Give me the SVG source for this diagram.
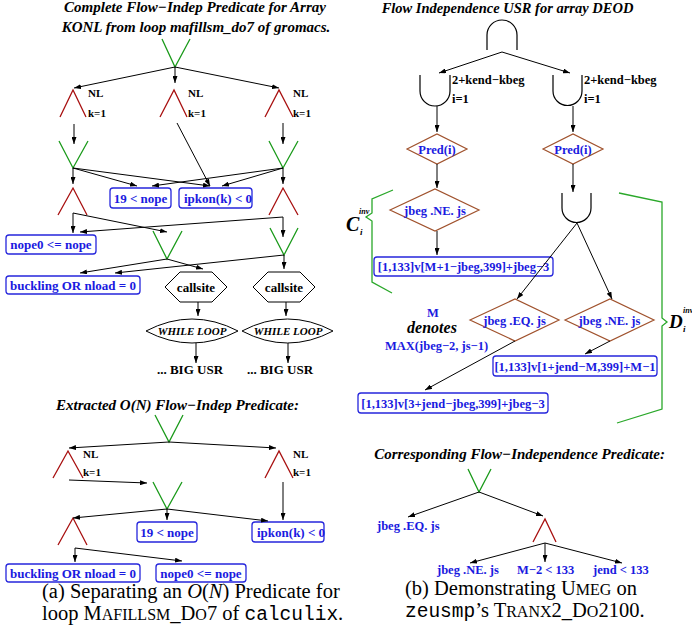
<svg xmlns="http://www.w3.org/2000/svg" width="692" height="627" viewBox="0 0 692 627">
<defs>
<marker id="ah" viewBox="0 0 7 5" refX="7" refY="2.5" markerWidth="7" markerHeight="5" orient="auto" markerUnits="userSpaceOnUse"><path d="M0,0 L7,2.5 L0,5 z" fill="#000"/></marker>
<style>
.title{font-family:"Liberation Serif",serif;font-weight:bold;font-style:italic;font-size:15px;fill:#000}
.lbl{font-family:"Liberation Serif",serif;font-weight:bold;font-size:11px;fill:#000}
.lbl2{font-family:"Liberation Serif",serif;font-weight:bold;font-size:12.5px;fill:#000}
.blue{font-family:"Liberation Serif",serif;font-weight:bold;font-size:13px;fill:#1a1ae0}
.bs{font-size:12.5px}
.blk{font-family:"Liberation Serif",serif;font-weight:bold;font-size:13px;fill:#000}
.wl{font-style:italic;font-size:11px}
.cap{font-family:"Liberation Serif",serif;font-size:20.5px;fill:#000}
.sc{font-size:16px}
.tt{font-family:"Liberation Mono",monospace;font-size:19.5px}
.box{fill:#fff;stroke:#2626dc;stroke-width:1.3}
.and{fill:none;stroke:#1a9a1a;stroke-width:1.3}
.or{fill:none;stroke:#a81010;stroke-width:1.3}
.dia{fill:#fff;stroke:#a0522d;stroke-width:1.2}
.shape{fill:#fff;stroke:#000;stroke-width:1}
.cup{fill:none;stroke:#000;stroke-width:1.2}
.brk{fill:none;stroke:#2aa82a;stroke-width:1.3}
.c{fill:none;stroke:#000;stroke-width:1;marker-end:url(#ah)}
</style>
</defs>
<rect width="692" height="627" fill="#fff"/>

<!-- ===== Left panel titles ===== -->
<text class="title" x="195" y="12" text-anchor="middle">Complete Flow−Indep Predicate for Array</text>
<text class="title" x="196" y="32" text-anchor="middle">KONL from loop mafillsm_do7 of gromacs.</text>

<g id="L-and1"><polyline class="and" points="162,39 175,67 190,39"/></g>
<g id="L-or1a"><polyline class="or" points="60,117 73,90 86,117"/><text class="lbl" x="88" y="97">NL</text><text class="lbl" x="88" y="117">k=1</text></g>
<g id="L-or1b"><polyline class="or" points="160,117 174,90 187,117"/><text class="lbl" x="188" y="97">NL</text><text class="lbl" x="188" y="117">k=1</text></g>
<g id="L-or1c"><polyline class="or" points="265,117 279,90 293,117"/><text class="lbl" x="293" y="97">NL</text><text class="lbl" x="293" y="117">k=1</text></g>
<g id="L-and2a"><polyline class="and" points="59,141 73,168 88,141"/></g>
<g id="L-and2b"><polyline class="and" points="269,141 283,168 298,141"/></g>
<g id="L-b19"><rect class="box" x="110" y="188" width="61" height="20" rx="3"/><text class="blue" x="140.5" y="202.5" text-anchor="middle">19 &lt; nope</text></g>
<g id="L-bipk"><rect class="box" x="179" y="188" width="73" height="20" rx="3"/><text class="blue" x="184" y="202.5">ipkon(k) &lt; 0</text></g>
<g id="L-or3a"><polyline class="or" points="58,215 73,188 87,215"/></g>
<g id="L-or3b"><polyline class="or" points="269,215 283,188 298,215"/></g>
<g id="L-and4a"><polyline class="and" points="153,231 167,259 182,231"/></g>
<g id="L-and4b"><polyline class="and" points="270,228 284,255 298,228"/></g>
<g id="L-bnope0"><rect class="box" x="6" y="235" width="90" height="19" rx="3"/><text class="blue" x="51" y="249" text-anchor="middle">nope0 &lt;= nope</text></g>
<g id="L-bbuck"><rect class="box" x="6" y="276" width="134" height="18" rx="3"/><text class="blue" x="73" y="289.5" text-anchor="middle">buckling OR nload = 0</text></g>
<g id="L-call1"><polygon class="shape" points="165,287 180,272 212,272 227,287 212,302 180,302"/><text class="blk" x="196" y="291.5" text-anchor="middle">callsite</text></g>
<g id="L-call2"><polygon class="shape" points="253,287 268,272 300,272 315,287 300,302 268,302"/><text class="blk" x="284" y="291.5" text-anchor="middle">callsite</text></g>
<g id="L-while1"><path class="shape" d="M146,331 Q192,307 238,331 Q192,355 146,331 Z"/><text class="blk wl" x="192" y="335" text-anchor="middle">WHILE LOOP</text></g>
<g id="L-while2"><path class="shape" d="M242,331 Q287.5,307 333,331 Q287.5,355 242,331 Z"/><text class="blk wl" x="288" y="335" text-anchor="middle">WHILE LOOP</text></g>
<g id="L-usr1"><text class="blk" x="190" y="374" text-anchor="middle">... BIG USR</text></g>
<g id="L-usr2"><text class="blk" x="280" y="374" text-anchor="middle">... BIG USR</text></g>

<!-- ===== Lower-left ===== -->
<text class="title" x="177.5" y="410" text-anchor="middle">Extracted O(N) Flow−Indep Predicate:</text>
<g id="E-and1"><polyline class="and" points="155,415 169,442 183,415"/></g>
<g id="E-or1a"><polyline class="or" points="53,478 68,451 83,478"/><text class="lbl" x="83" y="458">NL</text><text class="lbl" x="83" y="476">k=1</text></g>
<g id="E-or1b"><polyline class="or" points="265,478 279,451 293,478"/><text class="lbl" x="293" y="458">NL</text><text class="lbl" x="293" y="476">k=1</text></g>
<g id="E-and2"><polyline class="and" points="153,482 167,509 182,482"/></g>
<g id="E-or2"><polyline class="or" points="58,545 73,518 87,545"/></g>
<g id="E-b19"><rect class="box" x="137" y="522" width="60" height="20" rx="3"/><text class="blue" x="167" y="536.5" text-anchor="middle">19 &lt; nope</text></g>
<g id="E-bipk"><rect class="box" x="252" y="522" width="72" height="20" rx="3"/><text class="blue" x="257" y="536.5">ipkon(k) &lt; 0</text></g>
<g id="E-bbuck"><rect class="box" x="6" y="564" width="134" height="18" rx="3"/><text class="blue" x="73" y="577.5" text-anchor="middle">buckling OR nload = 0</text></g>
<g id="E-bnope0"><rect class="box" x="156" y="564" width="90" height="18" rx="3"/><text class="blue" x="201" y="577.5" text-anchor="middle">nope0 &lt;= nope</text></g>

<text class="cap" x="42" y="598">(a)  Separating an <tspan font-style="italic">O</tspan>(<tspan font-style="italic">N</tspan>) Predicate for</text>
<text class="cap" x="42" y="620">loop M<tspan class="sc">AFILLSM</tspan>_D<tspan class="sc">O</tspan>7 of <tspan class="tt">calculix</tspan>.</text>

<!-- ===== Right panel ===== -->
<text class="title" x="507.5" y="13" text-anchor="middle" style="font-size:14.5px">Flow Independence USR for array DEOD</text>
<g id="R-cap"><path class="cup" d="M487,50 V35 A15,15 0 0 1 517,35 V50"/></g>
<g id="R-cupL"><path class="cup" d="M420,75 V91 A15,15 0 0 0 450,91 V75"/><text class="lbl2" x="452" y="84">2+kend−kbeg</text><text class="lbl2" x="452" y="103">i=1</text></g>
<g id="R-cupR"><path class="cup" d="M553,75 V91 A14.5,14.5 0 0 0 582,91 V75"/><text class="lbl2" x="584" y="84">2+kend−kbeg</text><text class="lbl2" x="584" y="103">i=1</text></g>
<g id="R-predL"><polygon class="dia" points="407,149 437,134 467,149 437,164"/><text class="blue bs" x="437" y="153.5" text-anchor="middle">Pred(i)</text></g>
<g id="R-predR"><polygon class="dia" points="543,149 573,134 603,149 573,164"/><text class="blue bs" x="573" y="153.5" text-anchor="middle">Pred(i)</text></g>
<g id="R-neL"><polygon class="dia" points="390,210 435,189 479,210 435,231"/><text class="blue bs" x="435" y="214.5" text-anchor="middle">jbeg .NE. js</text></g>
<g id="R-box1"><rect class="box" x="374" y="257" width="179" height="19" rx="3"/><text class="blue bs" x="463.5" y="271" text-anchor="middle">[1,133]v[M+1−jbeg,399]+jbeg−3</text></g>
<g id="R-cup2"><path class="cup" d="M562,193 V208 A14.5,14.5 0 0 0 591,208 V193"/></g>
<g id="R-eq"><polygon class="dia" points="470,320 515,299 559,320 515,341"/><text class="blue bs" x="514.5" y="324.5" text-anchor="middle">jbeg .EQ. js</text></g>
<g id="R-ne"><polygon class="dia" points="565,320 610,299 654,320 610,341"/><text class="blue bs" x="609.5" y="324.5" text-anchor="middle">jbeg .NE. js</text></g>
<g id="R-box2"><rect class="box" x="493" y="356" width="164" height="20" rx="3"/><text class="blue bs" x="575" y="370.5" text-anchor="middle">[1,133]v[1+jend−M,399]+M−1</text></g>
<g id="R-box3"><rect class="box" x="358" y="393" width="190" height="20" rx="3"/><text class="blue bs" x="453" y="407.5" text-anchor="middle">[1,133]v[3+jend−jbeg,399]+jbeg−3</text></g>
<g id="R-note">
<text class="blue bs" x="433" y="317" text-anchor="middle">M</text>
<text class="blk" x="432" y="333" text-anchor="middle" style="font-style:italic;font-size:16px">denotes</text>
<text class="blue bs" x="385" y="350">MAX(jbeg−2, js−1)</text>
</g>
<g id="R-brkC"><polyline class="brk" points="393,190 372,199 372,213 366,217 372,221 372,282 392,293"/>
<text class="blk" x="346" y="231" style="font-style:italic;font-size:20px">C</text>
<text class="blk" x="359" y="214" style="font-style:italic;font-size:8px">inv</text>
<text class="blk" x="360" y="235" style="font-style:italic;font-size:9px">i</text></g>
<g id="R-brkD"><polyline class="brk" points="619,193 662,202 662,318 667,322 662,326 662,409 617,423"/>
<text class="blk" x="669" y="328" style="font-style:italic;font-size:19px">D</text>
<text class="blk" x="683" y="313" style="font-style:italic;font-size:8px">inv</text>
<text class="blk" x="683" y="332" style="font-style:italic;font-size:9px">i</text></g>

<!-- ===== Lower-right ===== -->
<text class="title" x="519.5" y="459" text-anchor="middle">Corresponding Flow−Independence Predicate:</text>
<g id="P-and"><polyline class="and" points="468,469 479,492 491,469"/></g>
<g id="P-eq"><text class="blue bs" x="377" y="530">jbeg .EQ. js</text></g>
<g id="P-or"><polyline class="or" points="533,542 545,519 556,542"/></g>
<g id="P-ne"><text class="blue bs" x="437" y="574">jbeg .NE. js</text></g>
<g id="P-m2"><text class="blue bs" x="517" y="574">M−2 &lt; 133</text></g>
<g id="P-jend"><text class="blue bs" x="593" y="574">jend &lt; 133</text></g>

<text class="cap" x="405" y="595">(b)  Demonstrating U<tspan class="sc">MEG</tspan> on</text>
<text class="cap" x="405" y="617"><tspan class="tt">zeusmp</tspan>’s T<tspan class="sc">RANX</tspan>2_D<tspan class="sc">O</tspan>2100.</text>

<!-- ===== Connectors ===== -->
<g id="connectors">
<line class="c" x1="175" y1="67" x2="74" y2="88"/>
<line class="c" x1="175" y1="67" x2="175" y2="83"/>
<line class="c" x1="175" y1="67" x2="279" y2="88"/>
<line class="c" x1="74" y1="124" x2="74" y2="144"/>
<line class="c" x1="177" y1="123" x2="210" y2="186"/>
<line class="c" x1="283" y1="123" x2="283" y2="144"/>
<line class="c" x1="73" y1="168" x2="73" y2="184"/>
<line class="c" x1="73" y1="168" x2="137" y2="186"/>
<line class="c" x1="73" y1="168" x2="210" y2="186"/>
<line class="c" x1="283" y1="168" x2="283" y2="184"/>
<line class="c" x1="283" y1="168" x2="152" y2="186"/>
<line class="c" x1="283" y1="168" x2="222" y2="186"/>
<line class="c" x1="73" y1="213" x2="73" y2="233"/>
<line class="c" x1="73" y1="213" x2="167" y2="232"/>
<line class="c" x1="283" y1="217" x2="80" y2="232"/>
<line class="c" x1="283" y1="217" x2="283" y2="237"/>
<line class="c" x1="167" y1="259" x2="80" y2="273"/>
<line class="c" x1="167" y1="259" x2="203" y2="269"/>
<line class="c" x1="284" y1="255" x2="115" y2="273"/>
<line class="c" x1="284" y1="255" x2="284" y2="269"/>
<line class="c" x1="198" y1="302" x2="198" y2="316"/>
<line class="c" x1="286" y1="302" x2="286" y2="316"/>
<line class="c" x1="196" y1="343" x2="196" y2="363"/>
<line class="c" x1="288" y1="343" x2="288" y2="363"/>

<line class="c" x1="169" y1="442" x2="69" y2="448"/>
<line class="c" x1="169" y1="442" x2="276" y2="448"/>
<line class="c" x1="69" y1="480" x2="147" y2="483"/>
<line class="c" x1="167" y1="509" x2="73" y2="518"/>
<line class="c" x1="167" y1="509" x2="167" y2="520"/>
<line class="c" x1="167" y1="509" x2="268" y2="521"/>
<line class="c" x1="283" y1="482" x2="283" y2="520"/>
<line class="c" x1="75" y1="548" x2="75" y2="562"/>
<line class="c" x1="75" y1="548" x2="182" y2="561"/>

<line class="c" x1="502" y1="52" x2="439" y2="73"/>
<line class="c" x1="502" y1="52" x2="570" y2="73"/>
<line class="c" x1="437" y1="106" x2="437" y2="132"/>
<line class="c" x1="573" y1="106" x2="573" y2="132"/>
<line class="c" x1="437" y1="164" x2="437" y2="188"/>
<line class="c" x1="573" y1="164" x2="573" y2="192"/>
<line class="c" x1="437" y1="231" x2="437" y2="255"/>
<line class="c" x1="577" y1="223" x2="517" y2="299"/>
<line class="c" x1="577" y1="223" x2="612" y2="299"/>
<line class="c" x1="610" y1="341" x2="585" y2="354"/>
<line class="c" x1="515" y1="341" x2="425" y2="390"/>

<line class="c" x1="479" y1="492" x2="408" y2="517"/>
<line class="c" x1="479" y1="492" x2="543" y2="516"/>
<line class="c" x1="545" y1="543" x2="470" y2="563"/>
<line class="c" x1="545" y1="543" x2="545" y2="562"/>
<line class="c" x1="545" y1="543" x2="622" y2="563"/>
</g>
</svg>
